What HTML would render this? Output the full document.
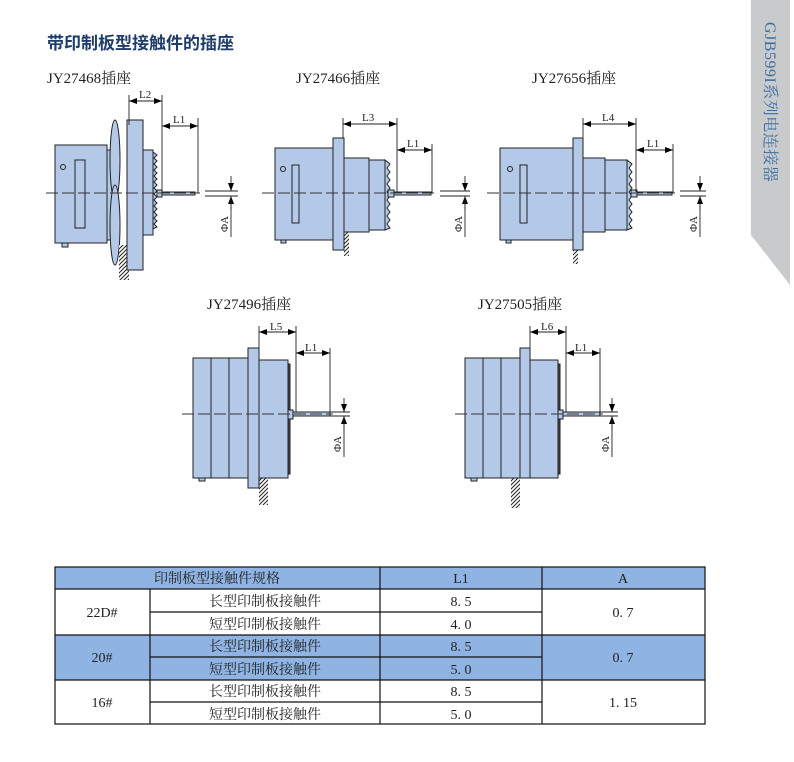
<!DOCTYPE html>
<html><head><meta charset="utf-8"><style>
body{margin:0;background:#fff;width:794px;height:762px;overflow:hidden;font-family:"Liberation Serif","Noto Serif CJK SC",serif}
svg{position:absolute;left:0;top:0}
</style></head><body>
<svg width="794" height="762" viewBox="0 0 794 762" xmlns="http://www.w3.org/2000/svg">
<defs>
<marker id="ar" markerWidth="8" markerHeight="6" refX="8" refY="3" orient="auto-start-reverse" markerUnits="userSpaceOnUse"><path d="M0,0 L8,3 L0,6 z" fill="#000"/></marker>
<pattern id="h" width="4" height="4" patternUnits="userSpaceOnUse"><rect width="4" height="4" fill="#fff"/><path d="M-1,1 L1,-1 M0,4 L4,0 M3,5 L5,3" stroke="#222" stroke-width="1"/></pattern>
</defs>
<polygon points="751,0 790,0 790,285 751,235" fill="#c9cacc"/>
<text transform="translate(765,22) rotate(90)" font-size="16" letter-spacing="0.5" fill="#3a6fa5" font-family="Liberation Serif,'Noto Serif CJK SC',serif">GJB599I系列电连接器</text>
<text x="47" y="49" font-size="17" font-weight="bold" fill="#1f3d6b" font-family="'Liberation Sans','Noto Sans CJK SC',sans-serif">带印制板型接触件的插座</text>
<g font-size="15" fill="#222">
<text x="47" y="83">JY27468插座</text>
<text x="296" y="83">JY27466插座</text>
<text x="532" y="83">JY27656插座</text>
<text x="207" y="309">JY27496插座</text>
<text x="478" y="309">JY27505插座</text>
</g>
<g stroke="#222" stroke-width="1" fill="#b4c8e8">
<rect x="55" y="145" width="52" height="98"/>
<rect x="62" y="243" width="6" height="4"/>
<rect x="107" y="150" width="6" height="90"/>
<ellipse cx="115" cy="160" rx="5" ry="40"/>
<ellipse cx="115" cy="225" rx="5" ry="40"/>
<rect x="119" y="245" width="10" height="35" fill="url(#h)" stroke="none"/>
<rect x="127" y="120" width="16" height="150"/>
<rect x="143" y="150" width="10" height="85"/>
<path d="M153,152 l4,3 -3,3 3,3 -3,3 3,3 -3,3 3,3 -3,3 3,3 -3,3 3,3 -3,3 3,3 -3,3 3,3 -3,3 3,3 -3,3 3,3 -3,3 3,3 -3,3 3,3 -3,3 3,3 -4,2z"/>
<rect x="157" y="190" width="5" height="7"/>
<rect x="162" y="192" width="33" height="3"/>
<rect x="75" y="160" width="10" height="68" fill="none"/>
<circle cx="63" cy="167" r="2.5" fill="none"/>
<rect x="344" y="232" width="5" height="24" fill="url(#h)" stroke="none"/>
<rect x="275" y="148" width="60" height="92"/>
<rect x="281" y="240" width="5" height="3"/>
<rect x="333" y="138" width="11" height="112"/>
<rect x="344" y="158" width="25" height="74"/>
<rect x="369" y="160" width="16" height="70"/>
<path d="M385,160 l5,4 -3,4 3,4 -3,4 3,4 -3,4 3,4 -3,4 3,4 -3,4 3,4 -3,4 3,4 -3,4 3,4 -3,4 3,4 -5,2z"/>
<rect x="388" y="190" width="6" height="7"/>
<rect x="394" y="192" width="37" height="3"/>
<rect x="292" y="165" width="7" height="58" fill="none"/>
<circle cx="283" cy="169" r="2.5" fill="none"/>
<rect x="573" y="250" width="5" height="14" fill="url(#h)" stroke="none"/>
<rect x="500" y="148" width="73" height="92"/>
<rect x="506" y="240" width="5" height="3"/>
<rect x="573" y="138" width="10" height="112"/>
<rect x="583" y="158" width="22" height="74"/>
<rect x="605" y="160" width="22" height="70"/>
<path d="M627,160 l5,4 -3,4 3,4 -3,4 3,4 -3,4 3,4 -3,4 3,4 -3,4 3,4 -3,4 3,4 -3,4 3,4 -3,4 3,4 -5,2z"/>
<rect x="631" y="190" width="6" height="7"/>
<rect x="637" y="192" width="35" height="3"/>
<rect x="520" y="165" width="7" height="58" fill="none"/>
<circle cx="510" cy="169" r="2.5" fill="none"/>
<rect x="259" y="478" width="9" height="27" fill="url(#h)" stroke="none"/>
<rect x="193" y="358" width="55" height="120"/>
<line x1="211" y1="358" x2="211" y2="478"/><line x1="229" y1="358" x2="229" y2="478"/>
<rect x="199" y="478" width="6" height="3"/>
<rect x="248" y="348" width="11" height="140"/>
<rect x="259" y="360" width="29" height="118"/>
<rect x="288" y="364" width="2" height="110" fill="#444"/>
<rect x="288" y="410" width="5" height="9"/>
<rect x="293" y="412" width="37" height="4"/>
<rect x="511" y="478" width="9" height="30" fill="url(#h)" stroke="none"/>
<rect x="465" y="358" width="55" height="120"/>
<line x1="483" y1="358" x2="483" y2="478"/><line x1="501" y1="358" x2="501" y2="478"/>
<rect x="471" y="478" width="6" height="3"/>
<rect x="520" y="348" width="10" height="130"/>
<rect x="530" y="360" width="28" height="118"/>
<rect x="558" y="364" width="2" height="110" fill="#444"/>
<rect x="558" y="410" width="5" height="9"/>
<rect x="563" y="412" width="37" height="4"/>
</g>
<g stroke="#333" stroke-width="1" stroke-dasharray="12,4">
<line x1="46" y1="193" x2="200" y2="193"/>
<line x1="262" y1="193" x2="435" y2="193"/>
<line x1="487" y1="193" x2="676" y2="193"/>
<line x1="182" y1="414" x2="333" y2="414"/>
<line x1="455" y1="414" x2="603" y2="414"/>
</g>
<g stroke="#222" stroke-width="0.9" fill="none">
<line x1="129" y1="95" x2="129" y2="125"/><line x1="162" y1="95" x2="162" y2="192"/>
<line x1="129" y1="101" x2="162" y2="101" marker-start="url(#ar)" marker-end="url(#ar)"/>
<line x1="198" y1="118" x2="198" y2="193"/>
<line x1="162" y1="126" x2="198" y2="126" marker-start="url(#ar)" marker-end="url(#ar)"/>
<line x1="343" y1="118" x2="343" y2="138"/><line x1="397" y1="118" x2="397" y2="192"/>
<line x1="343" y1="124" x2="397" y2="124" marker-start="url(#ar)" marker-end="url(#ar)"/>
<line x1="432" y1="144" x2="432" y2="193"/>
<line x1="397" y1="150" x2="432" y2="150" marker-start="url(#ar)" marker-end="url(#ar)"/>
<line x1="583" y1="118" x2="583" y2="138"/><line x1="636" y1="118" x2="636" y2="192"/>
<line x1="583" y1="124" x2="636" y2="124" marker-start="url(#ar)" marker-end="url(#ar)"/>
<line x1="673" y1="144" x2="673" y2="193"/>
<line x1="636" y1="150" x2="673" y2="150" marker-start="url(#ar)" marker-end="url(#ar)"/>
<line x1="259" y1="326" x2="259" y2="348"/><line x1="296" y1="326" x2="296" y2="412"/>
<line x1="259" y1="332" x2="296" y2="332" marker-start="url(#ar)" marker-end="url(#ar)"/>
<line x1="330" y1="348" x2="330" y2="414"/>
<line x1="296" y1="353" x2="330" y2="353" marker-start="url(#ar)" marker-end="url(#ar)"/>
<line x1="530" y1="326" x2="530" y2="348"/><line x1="566" y1="326" x2="566" y2="412"/>
<line x1="530" y1="332" x2="566" y2="332" marker-start="url(#ar)" marker-end="url(#ar)"/>
<line x1="600" y1="348" x2="600" y2="414"/>
<line x1="566" y1="353" x2="600" y2="353" marker-start="url(#ar)" marker-end="url(#ar)"/>
<line x1="205" y1="191" x2="238" y2="191"/><line x1="205" y1="196" x2="238" y2="196"/>
<line x1="231" y1="176" x2="231" y2="191" marker-end="url(#ar)"/><line x1="231" y1="210" x2="231" y2="196" marker-end="url(#ar)"/><line x1="231" y1="196" x2="231" y2="237"/>
<line x1="440" y1="191" x2="470" y2="191"/><line x1="440" y1="196" x2="470" y2="196"/>
<line x1="465" y1="176" x2="465" y2="191" marker-end="url(#ar)"/><line x1="465" y1="210" x2="465" y2="196" marker-end="url(#ar)"/><line x1="465" y1="196" x2="465" y2="237"/>
<line x1="680" y1="191" x2="706" y2="191"/><line x1="680" y1="196" x2="706" y2="196"/>
<line x1="700" y1="176" x2="700" y2="191" marker-end="url(#ar)"/><line x1="700" y1="210" x2="700" y2="196" marker-end="url(#ar)"/><line x1="700" y1="196" x2="700" y2="237"/>
<line x1="330" y1="412" x2="350" y2="412"/><line x1="330" y1="416" x2="350" y2="416"/>
<line x1="344" y1="398" x2="344" y2="412" marker-end="url(#ar)"/><line x1="344" y1="430" x2="344" y2="416" marker-end="url(#ar)"/><line x1="344" y1="416" x2="344" y2="457"/>
<line x1="600" y1="412" x2="618" y2="412"/><line x1="600" y1="416" x2="618" y2="416"/>
<line x1="612" y1="398" x2="612" y2="412" marker-end="url(#ar)"/><line x1="612" y1="430" x2="612" y2="416" marker-end="url(#ar)"/><line x1="612" y1="416" x2="612" y2="457"/>
</g>
<g font-size="11" fill="#222">
<text x="139" y="98">L2</text><text x="173" y="123">L1</text>
<text x="362" y="121">L3</text><text x="407" y="147">L1</text>
<text x="602" y="121">L4</text><text x="647" y="147">L1</text>
<text x="270" y="330">L5</text><text x="305" y="351">L1</text>
<text x="541" y="330">L6</text><text x="575" y="351">L1</text>
<text transform="translate(228,232) rotate(-90)">ΦA</text>
<text transform="translate(462,232) rotate(-90)">ΦA</text>
<text transform="translate(697,232) rotate(-90)">ΦA</text>
<text transform="translate(341,452) rotate(-90)">ΦA</text>
<text transform="translate(609,452) rotate(-90)">ΦA</text>
</g>
<rect x="55" y="567" width="650" height="22" fill="#8fb4e3"/>
<rect x="55" y="635" width="650" height="45" fill="#8fb4e3"/>
<g stroke="#111" stroke-width="1.2" fill="none">
<rect x="55" y="567" width="650" height="157"/>
<line x1="55" y1="589" x2="705" y2="589"/>
<line x1="55" y1="635" x2="705" y2="635"/>
<line x1="55" y1="680" x2="705" y2="680"/>
<line x1="150" y1="612" x2="542" y2="612"/>
<line x1="150" y1="657" x2="542" y2="657"/>
<line x1="150" y1="702" x2="542" y2="702"/>
<line x1="150" y1="589" x2="150" y2="724"/>
<line x1="380" y1="567" x2="380" y2="724"/>
<line x1="542" y1="567" x2="542" y2="724"/>
</g>
<g font-size="14" fill="#222" text-anchor="middle">
<text x="217" y="583">印制板型接触件规格</text>
<text x="461" y="583">L1</text><text x="623" y="583">A</text>
<text x="102" y="617">22D#</text><text x="102" y="662">20#</text><text x="102" y="707">16#</text>
<text x="265" y="606">长型印制板接触件</text><text x="265" y="629">短型印制板接触件</text>
<text x="265" y="651">长型印制板接触件</text><text x="265" y="674">短型印制板接触件</text>
<text x="265" y="696">长型印制板接触件</text><text x="265" y="719">短型印制板接触件</text>
</g>
<g font-size="14" fill="#222" text-anchor="middle">
<text x="461" y="606">8. 5</text><text x="461" y="629">4. 0</text>
<text x="461" y="651">8. 5</text><text x="461" y="674">5. 0</text>
<text x="461" y="696">8. 5</text><text x="461" y="719">5. 0</text>
<text x="623" y="617">0. 7</text><text x="623" y="662">0. 7</text><text x="623" y="707">1. 15</text>
</g>
</svg>
</body></html>
